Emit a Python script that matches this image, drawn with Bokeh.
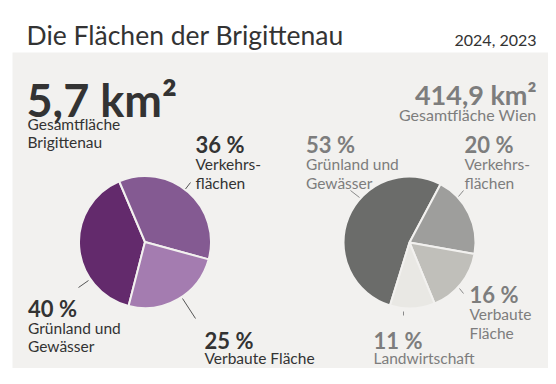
import math
from bokeh.plotting import figure
from bokeh.models import Range1d, ColumnDataSource
from bokeh.core.properties import value
from bokeh.embed import file_html
from bokeh.resources import INLINE

# ---------------- data ----------------
categories = ["Grünland und Gewässer", "Verkehrsflächen", "Verbaute Fläche", "Landwirtschaft"]
brigittenau_pct = [40, 36, 25, 0]
wien_pct = [53, 20, 16, 11]
area_brigittenau = "5,7"
area_wien = "414,9"
title = "Die Flächen der Brigittenau"
years = "2024, 2023"

brig_colors = ["#632a6c", "#845a92", "#a47cb0", "#d9cde0"]
wien_colors = ["#6b6c6a", "#9e9e9c", "#c0bfba", "#e9e8e4"]

BG = "#f2f1ef"
DARK = "#333333"
GRAY = "#7d7d7d"
FONT = "Lato"

# ---------------- figure (data units = image pixels, y negated) ----------------
W, H = 548, 368
p = figure(width=W, height=H, output_backend="svg", toolbar_location=None,
           x_range=Range1d(0, W), y_range=Range1d(-H, 0),
           min_border=0, background_fill_color="white", border_fill_color="white")
p.axis.visible = False
p.grid.visible = False
p.outline_line_color = None

# panel
p.quad(left=[12], right=[W], top=[-52], bottom=[-H], fill_color=BG, line_color=None)


def txt(x, y, s, size, color, bold=False, align="left"):
    p.text(x=[x], y=[-y], text=[s], text_font=value(FONT), text_font_size=f"{size}px",
           text_color=color, text_font_style="bold" if bold else "normal",
           text_align=align, text_baseline="alphabetic")


# header
txt(26, 34.5, title, 26.5, DARK)
txt(536, 38.5, years, 16, DARK, align="right")
txt(26, 99.5, f"{area_brigittenau} km²", 45, DARK, bold=True)
txt(27, 123.5, "Gesamtfläche", 15.5, DARK)
txt(27, 141.5, "Brigittenau", 15.5, DARK)
txt(536, 93.5, f"{area_wien} km²", 27, GRAY, bold=True, align="right")
txt(536, 113.5, "Gesamtfläche Wien", 16, GRAY, align="right")


def pie(cx, cy, r, vals, colors, start_deg):
    total = float(sum(vals))
    starts, ends, cols = [], [], []
    cum = 0.0
    for v, c in zip(vals, colors):
        if v <= 0:
            continue
        a0 = start_deg - cum / total * 360.0
        cum += v
        a1 = start_deg - cum / total * 360.0
        starts.append(math.radians(a0))
        ends.append(math.radians(a1))
        cols.append(c)
    src = ColumnDataSource(dict(x=[cx] * len(cols), y=[-cy] * len(cols),
                                s=starts, e=ends, c=cols))
    p.wedge(x="x", y="y", radius=r, start_angle="s", end_angle="e", direction="clock",
            fill_color="c", line_color=BG, line_width=2, source=src)


pie(144.5, 241.5, 66, brigittenau_pct, brig_colors, -104.4)
pie(409, 242, 66, wien_pct, wien_colors, -107.2)

# leader lines (layout)
leaders_left = [((185, 188.5), (190, 182)), ((88, 280), (78, 287)), ((182, 298), (195, 318))]
leaders_right = [((350, 190), (359, 197)), ((458, 196), (463, 190)),
                 ((459, 288), (463, 293)), ((403, 311), (403, 315))]
for (a, b) in leaders_left:
    p.line(x=[a[0], b[0]], y=[-a[1], -b[1]], line_color="#555555", line_width=1)
for (a, b) in leaders_right:
    p.line(x=[a[0], b[0]], y=[-a[1], -b[1]], line_color="#8a8a8a", line_width=1)

NB = "\u202f"
# pie labels (layout): (x, baseline of pct, first-line gap, lines)
left_labels = {
    "Verkehrsflächen": (195, 144, 19.5, ["Verkehrs-", "flächen"]),
    "Grünland und Gewässer": (27.5, 307.5, 19.5, ["Grünland und", "Gewässer"]),
    "Verbaute Fläche": (204, 339.5, 17.5, ["Verbaute Fläche"]),
}
right_labels = {
    "Grünland und Gewässer": (305.5, 144, 19.5, ["Grünland und", "Gewässer"]),
    "Verkehrsflächen": (464, 144, 19.5, ["Verkehrs-", "flächen"]),
    "Verbaute Fläche": (469, 294, 19.5, ["Verbaute", "Fläche"]),
    "Landwirtschaft": (373, 340, 17, ["Landwirtschaft"]),
}

for cat, v in zip(categories, brigittenau_pct):
    if cat in left_labels and v > 0:
        x, y, gap, lines = left_labels[cat]
        txt(x, y, f"{v}{NB}%", 22, DARK, bold=True)
        for i, ln in enumerate(lines):
            txt(x, y + gap + 18.7 * i, ln, 15.5, DARK)

for cat, v in zip(categories, wien_pct):
    if cat in right_labels:
        x, y, gap, lines = right_labels[cat]
        txt(x, y, f"{v}{NB}%", 22, GRAY, bold=True)
        for i, ln in enumerate(lines):
            txt(x, y + gap + 18.7 * i, ln, 15.5, GRAY)

open("out.html", "w").write(file_html(p, INLINE))
